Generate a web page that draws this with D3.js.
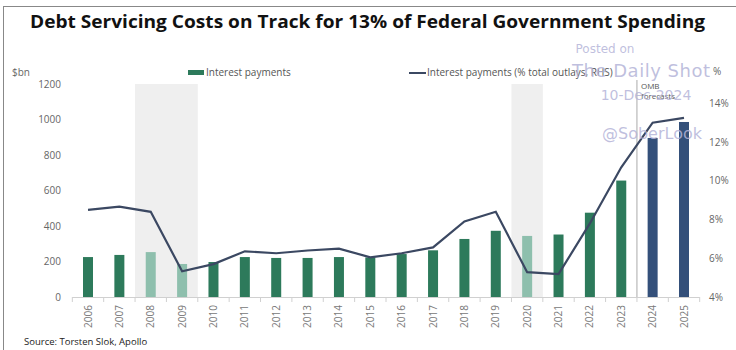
<!DOCTYPE html>
<html><head><meta charset="utf-8">
<script src="https://cdn.jsdelivr.net/npm/d3@7"></script>
<style>body{margin:0;background:#fff;} svg{display:block;font-family:"Open Sans",sans-serif;}</style>
</head><body><svg id="c" width="736" height="350"></svg>
<script>
const years = ["2006","2007","2008","2009","2010","2011","2012","2013","2014","2015","2016","2017","2018","2019","2020","2021","2022","2023","2024","2025"];
const interestPayments = [225,237,253,186,197,225,220,220,225,223,242,263,327,373,344,352,475,656,896,986];
const barKind = ["a","a","r","r","a","a","a","a","a","a","a","a","a","a","r","a","a","a","f","f"];
const pctOutlays = [8.5,8.67,8.4,5.33,5.7,6.36,6.26,6.4,6.5,6.05,6.26,6.56,7.9,8.4,5.28,5.18,7.8,10.7,13.0,13.25];
const recessions = [["2008","2009"],["2020","2020"]];
const leftTicks = [0,200,400,600,800,1000,1200];
const rightTicks = [4,6,8,10,12,14];

const svg = d3.select("#c");
const colors = {a:"#2d7a5b", r:"#8ebfad", f:"#34507a"};

const x = d3.scalePoint().domain(years).range([88,684]);
const step = x.step();
const yL = d3.scaleLinear().domain([0,1200]).range([297,84]);
const yR = d3.scaleLinear().domain([4,15]).range([297,84]);

// frame
svg.append("line").attr("x1",3.5).attr("x2",3.5).attr("y1",6).attr("y2",350).attr("stroke","#888");
svg.append("line").attr("x1",3).attr("x2",736).attr("y1",6.5).attr("y2",6.5).attr("stroke","#888");

// title
svg.append("text").attr("x",30).attr("y",28)
  .attr("font-size",18).attr("font-weight","bold").attr("fill","#111")
  .attr("textLength",675).attr("lengthAdjust","spacingAndGlyphs")
  .text("Debt Servicing Costs on Track for 13% of Federal Government Spending");

// recession shading
recessions.forEach(([a,b])=>{
  svg.append("rect").attr("x",x(a)-step/2).attr("width",x(b)-x(a)+step)
    .attr("y",yL(1200)).attr("height",yL(0)-yL(1200)).attr("fill","#efefef");
});

// OMB forecast divider
const divX = (x("2023")+x("2024"))/2;
svg.append("line").attr("x1",divX).attr("x2",divX).attr("y1",80).attr("y2",297).attr("stroke","#aaa").attr("stroke-width",1);
svg.append("text").attr("x",divX+4).attr("y",89).attr("font-size",8).attr("fill","#555").text("OMB");
svg.append("text").attr("x",divX+4).attr("y",99).attr("font-size",8).attr("fill","#555").text("forecasts");

// axis baseline and ticks
svg.append("line").attr("x1",x(years[0])-step/2).attr("x2",x(years[years.length-1])+step/2)
  .attr("y1",297.5).attr("y2",297.5).attr("stroke","#d0d0d0");
years.concat(["end"]).forEach((y,i)=>{
  const xx = x(years[0]) - step/2 + i*step;
  svg.append("line").attr("x1",xx).attr("x2",xx).attr("y1",297).attr("y2",302).attr("stroke","#d0d0d0");
});

// bars
svg.selectAll("rect.bar").data(years).enter().append("rect").attr("class","bar")
  .attr("x",d=>x(d)-5).attr("width",10)
  .attr("y",(d,i)=>yL(interestPayments[i])).attr("height",(d,i)=>yL(0)-yL(interestPayments[i]))
  .attr("fill",(d,i)=>colors[barKind[i]]);

// line
svg.append("path").datum(years).attr("fill","none").attr("stroke","#3b4862").attr("stroke-width",2.2)
  .attr("d",d3.line().x(d=>x(d)).y((d,i)=>yR(pctOutlays[i])));

// left axis labels
svg.selectAll("text.yl").data(leftTicks).enter().append("text").attr("class","yl")
  .attr("x",61).attr("y",d=>yL(d)+3.5).attr("text-anchor","end").attr("font-size",10).attr("fill","#666").text(d=>d);
svg.append("text").attr("x",12).attr("y",76).attr("font-size",10).attr("fill","#666").text("$bn");

// right axis labels
svg.selectAll("text.yr").data(rightTicks).enter().append("text").attr("class","yr")
  .attr("x",709).attr("y",d=>yR(d)+3.5).attr("font-size",10).attr("fill","#666").text(d=>d+"%");
svg.append("text").attr("x",713).attr("y",75).attr("font-size",10).attr("fill","#666").text("%");

// x labels
svg.selectAll("text.xl").data(years).enter().append("text").attr("class","xl")
  .attr("transform",d=>`translate(${x(d)+3.5},305) rotate(-90)`).attr("text-anchor","end")
  .attr("font-size",10).attr("fill","#777").text(d=>d);

// legend
svg.append("rect").attr("x",188).attr("y",70).attr("width",16).attr("height",5).attr("fill",colors.a);
svg.append("text").attr("x",206).attr("y",76).attr("font-size",10).attr("fill","#555").text("Interest payments");
svg.append("line").attr("x1",409).attr("x2",426).attr("y1",73).attr("y2",73).attr("stroke","#3b4862").attr("stroke-width",2);
svg.append("text").attr("x",427).attr("y",76).attr("font-size",10).attr("fill","#555").text("Interest payments (% total outlays, RHS)");

// source
svg.append("text").attr("x",24).attr("y",345).attr("font-size",9.5).attr("fill","#222").text("Source: Torsten Slok, Apollo");

// watermark
const wm = svg.append("g").attr("fill","#b4b4d8").attr("fill-opacity",0.85).attr("text-anchor","middle").style("font-family","'DejaVu Sans', sans-serif");
wm.append("text").attr("x",605).attr("y",53).attr("font-size",12).text("Posted on");
wm.append("text").attr("x",641).attr("y",77).attr("font-size",18).attr("textLength",138).text("The Daily Shot");
wm.append("text").attr("x",646).attr("y",100).attr("font-size",14).text("10-Dec-2024");
wm.append("text").attr("x",652).attr("y",139).attr("font-size",16).text("@SoberLook");
</script></body></html>
